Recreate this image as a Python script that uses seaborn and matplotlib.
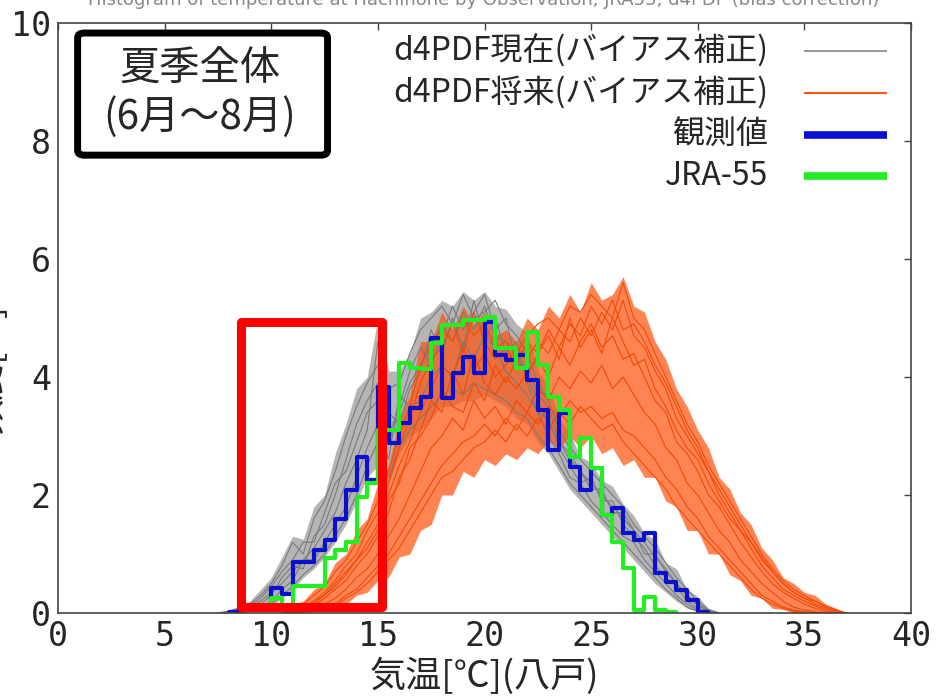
import numpy as np
import pandas as pd
import matplotlib
matplotlib.use("Agg")
import matplotlib.pyplot as plt
import seaborn as sns
from matplotlib.patches import Rectangle, FancyBboxPatch

# ---- data ----
# d4PDF present ensemble, values at 0.5 degC spacing
GRAY_X = [7.5, 8.0, 8.5, 9.0, 9.5, 10.0, 10.5, 11.0, 11.5, 12.0, 12.5, 13.0,
          13.5, 14.0, 14.5, 15.0, 15.5, 16.0, 16.5, 17.0, 17.5, 18.0, 18.5, 19.0,
          19.5, 20.0, 20.5, 21.0, 21.5, 22.0, 22.5, 23.0, 23.5, 24.0, 24.5, 25.0,
          25.5, 26.0, 26.5, 27.0, 27.5, 28.0, 28.5, 29.0, 29.5, 30.0, 30.5, 31.0]
GRAY_LO = [0, 0, 0, 0.02, 0.05, 0.1, 0.25, 0.4, 0.6, 0.75, 0.95, 1.2,
           1.5, 1.9, 2.3, 2.5, 2.2, 2.7, 3.0, 3.1, 3.3, 3.5, 3.5, 3.6,
           3.6, 3.7, 3.6, 3.5, 3.3, 3.2, 2.9, 2.7, 2.4, 2.1, 1.9, 1.7,
           1.5, 1.3, 1.1, 0.9, 0.7, 0.5, 0.35, 0.2, 0.08, 0.02, 0, 0]
GRAY_HI = [0.02, 0.05, 0.12, 0.2, 0.4, 0.6, 0.95, 1.3, 1.25, 1.8, 2.0, 2.7,
           3.2, 3.8, 4.0, 5.0, 4.1, 4.1, 4.4, 5.0, 5.1, 5.3, 5.2, 5.45,
           5.3, 5.45, 5.2, 5.15, 4.9, 4.75, 4.1, 3.85, 3.3, 3.05, 2.65, 2.55,
           2.25, 2.15, 1.85, 1.65, 1.35, 1.25, 0.85, 0.75, 0.4, 0.28, 0.08, 0.02]
GRAY_MEMBERS = {
    "p1": [0, 0.02, 0.05, 0.1, 0.2, 0.35, 0.5, 0.7, 0.9, 1.1, 1.4, 1.7, 2.2, 2.6, 3.1, 4.6,
           2.9, 3.4, 3.9, 4.2, 4.5, 4.9, 4.6, 5.1, 4.8, 5.2, 4.7, 4.6, 4.4, 4.0, 3.6, 3.2,
           2.9, 2.6, 2.4, 2.2, 2.0, 1.8, 1.6, 1.4, 1.2, 0.95, 0.75, 0.5, 0.3, 0.12, 0.03, 0],
    "p2": [0, 0, 0.03, 0.08, 0.15, 0.3, 0.6, 0.8, 0.75, 1.3, 1.5, 2.0, 2.6, 3.2, 3.6, 3.9,
           3.4, 3.2, 3.8, 4.1, 4.8, 4.4, 5.0, 4.5, 5.3, 4.6, 5.0, 4.4, 4.6, 3.9, 3.4, 3.3,
           2.8, 2.5, 2.2, 2.3, 1.9, 1.9, 1.5, 1.3, 1.1, 0.8, 0.6, 0.45, 0.2, 0.08, 0.01, 0],
    "p3": [0, 0.01, 0.02, 0.05, 0.1, 0.2, 0.4, 0.55, 0.9, 0.9, 1.2, 1.5, 1.8, 2.3, 2.8, 3.2,
           2.6, 3.7, 3.5, 3.6, 4.0, 4.2, 4.0, 4.6, 4.3, 4.7, 4.5, 4.1, 3.9, 3.7, 3.4, 3.0,
           2.7, 2.3, 2.2, 1.9, 1.7, 1.5, 1.3, 1.2, 0.9, 0.7, 0.5, 0.3, 0.15, 0.05, 0, 0],
    "p4": [0, 0.03, 0.08, 0.15, 0.3, 0.5, 0.8, 1.2, 1.0, 1.6, 1.9, 2.4, 3.0, 3.5, 3.9, 4.2,
           3.8, 3.9, 4.4, 4.8, 5.0, 5.2, 4.9, 5.4, 5.0, 5.1, 5.3, 4.9, 4.7, 4.4, 3.9, 3.6,
           3.1, 2.8, 2.6, 2.4, 2.2, 2.0, 1.8, 1.5, 1.3, 1.1, 0.85, 0.6, 0.4, 0.2, 0.06, 0],
    "p5": [0, 0, 0.01, 0.03, 0.07, 0.15, 0.3, 0.45, 0.65, 0.8, 1.0, 1.3, 1.6, 2.0, 2.5, 2.9,
           2.3, 2.8, 3.1, 3.3, 3.5, 3.7, 3.8, 3.7, 3.9, 3.8, 3.7, 3.6, 3.4, 3.3, 3.0, 2.8,
           2.5, 2.2, 2.0, 1.8, 1.6, 1.4, 1.2, 1.0, 0.8, 0.6, 0.4, 0.25, 0.1, 0.03, 0, 0],
    "p6": [0, 0.01, 0.04, 0.12, 0.25, 0.45, 0.7, 0.9, 1.2, 1.2, 1.7, 2.2, 2.4, 2.9, 3.4, 3.6,
           3.0, 3.5, 4.1, 4.5, 4.2, 4.7, 5.2, 4.8, 5.1, 5.4, 4.8, 5.0, 4.2, 4.2, 3.7, 3.5,
           2.9, 2.7, 2.4, 2.1, 2.1, 1.7, 1.7, 1.4, 1.0, 1.0, 0.7, 0.5, 0.3, 0.15, 0.04, 0],
}

# d4PDF future ensemble
ORANGE_X = [10.5, 11.0, 11.5, 12.0, 12.5, 13.0, 13.5, 14.0, 14.5, 15.0, 15.5, 16.0,
            16.5, 17.0, 17.5, 18.0, 18.5, 19.0, 19.5, 20.0, 20.5, 21.0, 21.5, 22.0,
            22.5, 23.0, 23.5, 24.0, 24.5, 25.0, 25.5, 26.0, 26.5, 27.0, 27.5, 28.0,
            28.5, 29.0, 29.5, 30.0, 30.5, 31.0, 31.5, 32.0, 32.5, 33.0, 33.5, 34.0,
            34.5, 35.0, 35.5, 36.0, 36.5, 37.0]
ORANGE_LO = [0, 0, 0, 0.02, 0.04, 0.1, 0.15, 0.3, 0.35, 0.55, 0.6, 0.95,
             1.0, 1.4, 1.5, 2.0, 2.0, 2.4, 2.3, 2.6, 2.5, 2.7, 2.6, 2.8,
             2.7, 2.9, 2.8, 3.0, 2.8, 3.0, 2.7, 2.8, 2.5, 2.6, 2.3, 2.3,
             1.9, 1.8, 1.4, 1.4, 1.0, 1.0, 0.65, 0.55, 0.3, 0.25, 0.08, 0.06,
             0, 0, 0, 0, 0, 0]
ORANGE_HI = [0, 0.15, 0.2, 0.4, 0.5, 0.85, 1.0, 1.4, 1.6, 2.2, 2.5, 3.3,
             3.7, 4.6, 4.6, 5.1, 4.8, 5.2, 4.9, 5.1, 4.7, 4.8, 4.6, 5.0,
             4.8, 5.2, 5.0, 5.4, 5.1, 5.6, 5.3, 5.4, 5.7, 5.2, 5.1, 4.6,
             4.3, 3.8, 3.5, 3.1, 2.8, 2.3, 2.1, 1.7, 1.5, 1.1, 0.9, 0.6,
             0.5, 0.35, 0.3, 0.15, 0.08, 0]
ORANGE_MEMBERS = {
    "f1": [0, 0.05, 0.1, 0.2, 0.3, 0.5, 0.7, 0.9, 1.2, 1.5, 2.0, 2.5, 2.9, 3.4, 3.8, 4.2,
           4.0, 4.5, 4.1, 4.4, 4.0, 4.2, 4.5, 4.3, 4.6, 4.4, 4.8, 4.6, 5.0, 4.7, 5.1, 4.8,
           5.3, 4.7, 4.5, 4.1, 3.8, 3.3, 3.0, 2.7, 2.4, 2.0, 1.7, 1.4, 1.1, 0.8, 0.6, 0.4,
           0.3, 0.2, 0.12, 0.05, 0, 0],
    "f2": [0, 0, 0.02, 0.05, 0.1, 0.15, 0.3, 0.4, 0.6, 0.8, 1.0, 1.3, 1.6, 1.9, 2.2, 2.5,
           2.7, 2.9, 3.0, 3.2, 3.0, 3.3, 3.1, 3.4, 3.2, 3.5, 3.3, 3.6, 3.4, 3.5, 3.3, 3.4,
           3.1, 3.0, 2.8, 2.6, 2.3, 2.1, 1.8, 1.6, 1.3, 1.1, 0.9, 0.7, 0.5, 0.3, 0.2, 0.1,
           0.05, 0.02, 0, 0, 0, 0],
    "f3": [0, 0.02, 0.06, 0.12, 0.25, 0.4, 0.55, 0.8, 1.0, 1.3, 1.7, 2.3, 2.6, 3.1, 3.6, 3.4,
           4.1, 3.7, 4.4, 3.9, 3.7, 4.0, 3.8, 4.1, 4.3, 4.0, 4.5, 4.2, 4.6, 4.9, 4.5, 4.7,
           4.3, 4.4, 4.0, 3.6, 3.4, 2.9, 2.7, 2.4, 2.0, 1.8, 1.5, 1.2, 0.95, 0.7, 0.5, 0.35,
           0.25, 0.15, 0.08, 0.02, 0, 0],
    "f4": [0, 0.08, 0.15, 0.3, 0.45, 0.7, 0.9, 1.2, 1.5, 1.9, 2.4, 3.0, 3.5, 4.2, 4.6, 4.8,
           4.6, 5.0, 4.7, 4.9, 4.5, 4.6, 4.4, 4.7, 4.9, 5.0, 4.8, 5.2, 5.1, 5.4, 5.2, 5.0,
           5.6, 5.0, 4.8, 4.4, 4.0, 3.6, 3.2, 2.9, 2.5, 2.2, 1.9, 1.6, 1.3, 1.0, 0.75, 0.55,
           0.4, 0.3, 0.2, 0.1, 0.03, 0],
    "f5": [0, 0.01, 0.03, 0.08, 0.15, 0.25, 0.4, 0.6, 0.75, 1.0, 1.3, 1.6, 2.0, 2.4, 2.8, 3.0,
           3.3, 3.1, 3.6, 3.3, 3.5, 3.2, 3.6, 3.4, 3.8, 3.6, 4.0, 3.8, 4.1, 3.9, 4.2, 3.8,
           4.0, 3.7, 3.4, 3.2, 2.8, 2.6, 2.2, 2.0, 1.7, 1.4, 1.2, 0.9, 0.7, 0.5, 0.35, 0.2,
           0.1, 0.05, 0.02, 0, 0, 0],
    "f6": [0, 0.03, 0.08, 0.15, 0.3, 0.45, 0.65, 0.9, 1.1, 1.4, 1.9, 2.2, 2.8, 3.0, 3.3, 3.8,
           3.5, 3.4, 3.9, 3.6, 4.2, 3.9, 4.3, 4.0, 4.4, 4.7, 4.3, 5.0, 4.5, 4.8, 4.4, 5.0,
           4.6, 4.2, 4.3, 3.8, 3.5, 3.1, 2.8, 2.6, 2.2, 1.9, 1.6, 1.4, 1.2, 0.9, 0.7, 0.5,
           0.35, 0.25, 0.15, 0.08, 0.02, 0],
    "f7": [0, 0, 0.02, 0.04, 0.08, 0.12, 0.25, 0.35, 0.5, 0.7, 0.9, 1.1, 1.4, 1.7, 2.0, 2.3,
           2.4, 2.6, 2.8, 2.9, 3.1, 2.9, 3.2, 3.0, 3.3, 3.1, 3.4, 3.2, 3.5, 3.3, 3.1, 3.2,
           2.9, 2.7, 2.5, 2.3, 2.1, 1.8, 1.6, 1.4, 1.2, 1.0, 0.8, 0.6, 0.4, 0.25, 0.15, 0.08,
           0.03, 0.01, 0, 0, 0, 0],
    "f8": [0, 0.04, 0.1, 0.2, 0.35, 0.55, 0.8, 1.0, 1.4, 1.7, 2.2, 2.8, 3.3, 3.9, 4.3, 4.5,
           4.9, 4.4, 5.1, 4.6, 4.3, 4.5, 4.2, 4.6, 4.4, 4.8, 4.5, 4.9, 4.7, 5.2, 4.9, 5.3,
           4.8, 4.9, 4.6, 4.2, 3.9, 3.5, 3.1, 2.8, 2.4, 2.1, 1.8, 1.5, 1.2, 0.95, 0.7, 0.5,
           0.35, 0.25, 0.2, 0.12, 0.05, 0],
}

# observation (step histogram, 0.5 degC bins, left edges)
OBS_LEFT = [8.0, 8.5, 9.0, 9.5, 10.0, 10.5, 11.0, 11.5, 12.0, 12.5, 13.0, 13.5,
            14.0, 14.5, 15.0, 15.5, 16.0, 16.5, 17.0, 17.5, 18.0, 18.5, 19.0, 19.5,
            20.0, 20.5, 21.0, 21.5, 22.0, 22.5, 23.0, 23.5, 24.0, 24.5, 25.0, 25.5,
            26.0, 26.5, 27.0, 27.5, 28.0, 28.5, 29.0, 29.5, 30.0]
OBS_FREQ = [0.02, 0.08, 0.05, 0.1, 0.42, 0.33, 0.86, 0.86, 1.07, 1.24, 1.6, 2.08,
            2.64, 2.25, 3.83, 2.88, 3.22, 3.47, 3.66, 4.66, 3.64, 4.07, 4.34, 4.07,
            4.93, 4.37, 4.29, 4.37, 3.95, 3.44, 2.76, 3.39, 2.47, 2.08, 2.45, 1.66,
            1.78, 1.35, 1.24, 1.35, 0.67, 0.53, 0.39, 0.22, 0.02]

# JRA-55
JRA_LEFT = [9.5, 10.0, 10.5, 11.0, 11.5, 12.0, 12.5, 13.0, 13.5, 14.0, 14.5, 15.0,
            15.5, 16.0, 16.5, 17.0, 17.5, 18.0, 18.5, 19.0, 19.5, 20.0, 20.5, 21.0,
            21.5, 22.0, 22.5, 23.0, 23.5, 24.0, 24.5, 25.0, 25.5, 26.0, 26.5, 27.0,
            27.5, 28.0, 28.5]
JRA_FREQ = [0.05, 0.25, 0.1, 0.45, 0.45, 0.45, 0.93, 1.07, 1.2, 1.97, 2.2, 3.1,
            3.1, 4.24, 4.15, 4.13, 4.58, 4.88, 4.88, 4.97, 4.97, 5.02, 4.49, 4.49,
            4.15, 4.76, 4.2, 3.66, 3.44, 2.64, 2.96, 2.46, 1.66, 1.2, 0.77, 0.05,
            0.27, 0.05, 0.02]

LEGEND_LABELS = ["d4PDF現在(バイアス補正)", "d4PDF将来(バイアス補正)", "観測値", "JRA-55"]
X_TICKS = [0, 5, 10, 15, 20, 25, 30, 35, 40]
Y_TICKS = [0, 2, 4, 6, 8, 10]

GRAY = "#858585"
ORANGE = "#ff5510"
BLUE = "#0a10d0"
GREEN = "#22ee22"


def long_form(xs, members):
    rows = []
    for name, vals in members.items():
        assert len(vals) == len(xs), name
        for x, v in zip(xs, vals):
            rows.append((name, x, v))
    return pd.DataFrame(rows, columns=["member", "temp", "freq"])


sns.set_theme(style="white")
plt.rcParams["font.family"] = ["Noto Sans CJK JP", "DejaVu Sans"]

fig = plt.figure(figsize=(9.37, 6.97), dpi=100)
ax = fig.add_axes([58 / 937, 1 - 613 / 697, 853 / 937, 590 / 697])

# present ensemble
ax.fill_between(GRAY_X, GRAY_LO, GRAY_HI, color=GRAY, alpha=0.6, lw=0)
sns.lineplot(data=long_form(GRAY_X, GRAY_MEMBERS), x="temp", y="freq", units="member",
             estimator=None, color="#7a7a7a", lw=0.8, legend=False, ax=ax)

# future ensemble
ax.fill_between(ORANGE_X, ORANGE_LO, ORANGE_HI, color=ORANGE, alpha=0.72, lw=0)
sns.lineplot(data=long_form(ORANGE_X, ORANGE_MEMBERS), x="temp", y="freq", units="member",
             estimator=None, color="#f04a08", lw=0.8, legend=False, ax=ax)

# observation & JRA-55 as step lines
sns.lineplot(x=OBS_LEFT + [OBS_LEFT[-1] + 0.5], y=OBS_FREQ + [OBS_FREQ[-1]],
             drawstyle="steps-post", color=BLUE, lw=3, ax=ax)
sns.lineplot(x=JRA_LEFT + [JRA_LEFT[-1] + 0.5], y=JRA_FREQ + [JRA_FREQ[-1]],
             drawstyle="steps-post", color=GREEN, lw=3, ax=ax)

ax.set_xlim(0, 40)
ax.set_ylim(0, 10)
ax.set_xticks(X_TICKS)
ax.set_yticks(Y_TICKS)
ax.set_xlabel("")
ax.set_ylabel("")
ax.tick_params(direction="in", length=5, width=1, color="#444444", labelsize=24,
               top=True, right=True, pad=5)
for lbl in ax.get_xticklabels() + ax.get_yticklabels():
    lbl.set_fontfamily("DejaVu Sans Mono")
for s in ax.spines.values():
    s.set_color("#444444")
    s.set_linewidth(1.2)

# highlighted region
ax.add_patch(Rectangle((8.58, 0.10), 15.19 - 8.58, 4.93 - 0.10, fill=False,
                       ec="#ff0000", lw=6.5, joinstyle="round", zorder=5))

# season box
ax.add_patch(FancyBboxPatch((0.023, 0.776), 0.293, 0.207, boxstyle="round,pad=0,rounding_size=0.008",
                            transform=ax.transAxes, fc="white", ec="black", lw=5, zorder=6))
ax.text(0.166, 0.922, "夏季全体", transform=ax.transAxes, ha="center", va="center",
        fontsize=29, zorder=7)
ax.text(0.166, 0.840, "(6月～8月)", transform=ax.transAxes, ha="center", va="center",
        fontsize=29, zorder=7)

# legend drawn by hand: text right-aligned, sample line on the right
leg_y = [0.953, 0.882, 0.811, 0.740]
leg_style = [(GRAY, 1.2), (ORANGE, 1.5), (BLUE, 5.5), (GREEN, 5.5)]
for label, yy, (c, w) in zip(LEGEND_LABELS, leg_y, leg_style):
    ax.text(0.833, yy, label, transform=ax.transAxes, ha="right", va="center", fontsize=23)
    ax.plot([0.875, 0.972], [yy, yy], transform=ax.transAxes, color=c, lw=w,
            solid_capstyle="butt", clip_on=False)

fig.text(484 / 937, 1 - 676 / 697, "気温[℃](八戸)", ha="center", va="center", fontsize=26)
fig.text(-0.012, 0.47, "頻度[%]", rotation=90, ha="center", va="center", fontsize=26)
fig.text(484 / 937, 1 - 5 / 697,
         "Histogram of temperature at Hachinohe by Observation, JRA55, d4PDF (bias correction)",
         ha="center", va="baseline", fontsize=13, color="#888888", family="DejaVu Sans")

fig.savefig("out.png", dpi=100)
